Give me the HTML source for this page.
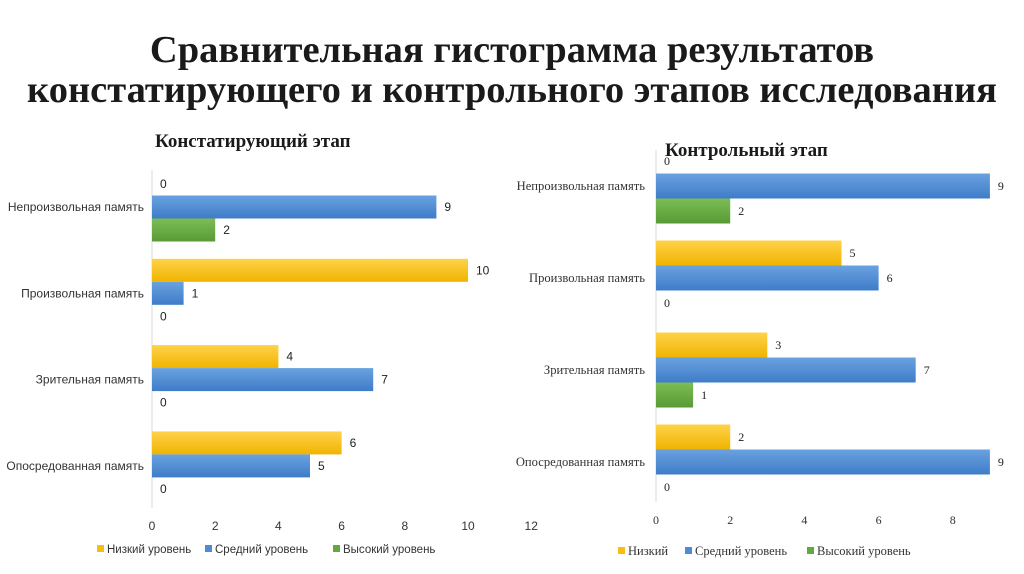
<!DOCTYPE html>
<html><head><meta charset="utf-8">
<style>
body{margin:0;background:#fff;width:1024px;height:574px;overflow:hidden}
svg{display:block}
</style></head>
<body>
<svg width="1024" height="574" xmlns="http://www.w3.org/2000/svg">
<defs>
<linearGradient id="gy" x1="0" y1="0" x2="0" y2="1"><stop offset="0" stop-color="#ffd24a"/><stop offset="1" stop-color="#f0b400"/></linearGradient>
<linearGradient id="gb" x1="0" y1="0" x2="0" y2="1"><stop offset="0" stop-color="#6aa2e0"/><stop offset="1" stop-color="#3f7cc8"/></linearGradient>
<linearGradient id="gg" x1="0" y1="0" x2="0" y2="1"><stop offset="0" stop-color="#7cbd55"/><stop offset="1" stop-color="#589a35"/></linearGradient>
</defs>
<text x="512" y="62" text-anchor="middle" font-family="Liberation Serif, serif" font-weight="bold" font-size="38.5" fill="#1a1a1a">Сравнительная гистограмма результатов</text>
<text x="512" y="102" text-anchor="middle" font-family="Liberation Serif, serif" font-weight="bold" font-size="38.5" fill="#1a1a1a">констатирующего и контрольного этапов исследования</text>
<text x="155" y="147" font-family="Liberation Serif, serif" font-weight="bold" font-size="19" fill="#1a1a1a">Констатирующий этап</text>
<text x="665" y="156" font-family="Liberation Serif, serif" font-weight="bold" font-size="19" fill="#1a1a1a">Контрольный этап</text>
<g id="left"></g>
<g id="right"></g>
</svg>
<script>
const categories = ["Непроизвольная память","Произвольная память","Зрительная память","Опосредованная память"];
const leftLow = [0,10,4,6];
const leftMid = [9,1,7,5];
const leftHigh = [2,0,0,0];
const rightLow = [0,5,3,2];
const rightMid = [9,6,7,9];
const rightHigh = [2,0,1,0];
const leftTicks = [0,2,4,6,8,10,12];
const rightTicks = [0,2,4,6,8];
const NS="http://www.w3.org/2000/svg";
function mk(parent,tag,attrs,txt){const e=document.createElementNS(NS,tag);for(const k in attrs)e.setAttribute(k,attrs[k]);if(txt!==undefined)e.textContent=txt;parent.appendChild(e);return e;}
function draw(cfg){
  const g=document.getElementById(cfg.id);
  const xs=v=>cfg.x0+v*cfg.ppu;
  const ys=i=>cfg.c0+i*cfg.step;
  let ax=mk(g,'line',{x1:cfg.x0,x2:cfg.x0,y1:cfg.axTop,y2:cfg.axBot,stroke:'#d9d9d9','stroke-width':1});
  
  
  const series=[[cfg.low,'url(#gy)','low'],[cfg.mid,'url(#gb)','mid'],[cfg.high,'url(#gg)','high']];
  categories.forEach((c,i)=>{
    const cy=ys(i);
    let t=mk(g,'text',{x:cfg.labX,y:cy+4,'text-anchor':'end','font-family':cfg.font,'font-size':cfg.catSize,fill:'#333'},c);
    
    
    series.forEach((s,j)=>{
      const v=s[0][i];
      const top=cy-cfg.bh*1.5+j*cfg.bh;
      if(v>0){
        let r=mk(g,'rect',{x:cfg.x0,y:top,width:xs(v)-cfg.x0,height:cfg.bh,fill:s[1]});
        
        
      }
      let l=mk(g,'text',{x:xs(v)+8,y:top+cfg.bh/2+4,'font-family':cfg.font,'font-size':12,fill:'#222'},String(v));
      
      
    });
  });
  cfg.ticks.forEach(tv=>{
    let t=mk(g,'text',{x:xs(tv),y:cfg.tickY,'text-anchor':'middle','font-family':cfg.font,'font-size':12,fill:'#333'},String(tv));
    
    
  });
  let lx=cfg.legX;
  cfg.legend.forEach((name,j)=>{
    let sq=mk(g,'rect',{x:lx,y:cfg.legY-8,width:7,height:7,fill:['#f5be10','#4f8ad6','#62a83e'][j]});
    
    
    let t=mk(g,'text',{x:lx+10,y:cfg.legY,'font-family':cfg.font,'font-size':cfg.legSize,fill:'#333'},name);
    
    
    lx+=cfg.legGap[j];
  });
}
draw({id:'left',x0:152,ppu:31.6,c0:207,step:86.3,bh:23,low:leftLow,mid:leftMid,high:leftHigh,ticks:leftTicks,tickY:530,axTop:170,axBot:508,font:'Liberation Sans, sans-serif',catSize:12,labX:144,legend:['Низкий уровень','Средний уровень','Высокий уровень'],legX:97,legY:553,legGap:[108,128],legSize:11.5});
draw({id:'right',x0:656,ppu:37.1,c0:186,step:92,bh:25,low:rightLow,mid:rightMid,high:rightHigh,ticks:rightTicks,tickY:524,axTop:150,axBot:502,font:'Liberation Serif, serif',catSize:12.6,labX:645,legend:['Низкий','Средний уровень','Высокий уровень'],legX:618,legY:555,legGap:[67,122],legSize:12.5});
</script>
</body></html>
